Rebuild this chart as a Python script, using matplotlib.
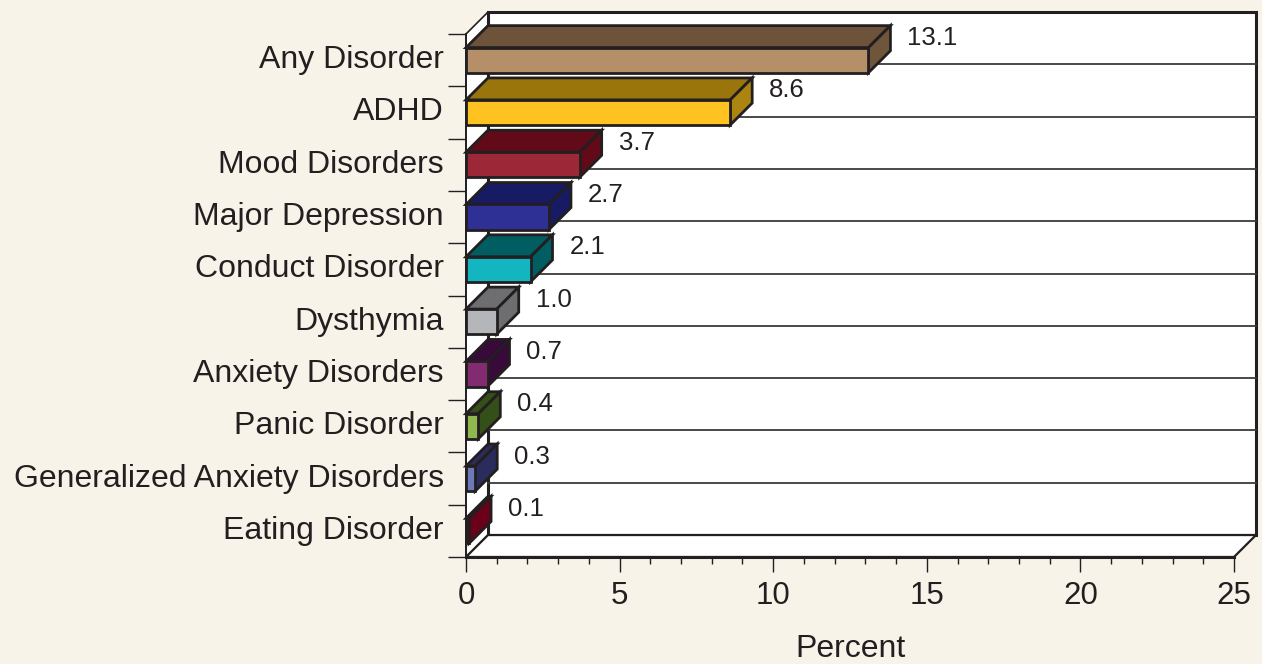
import numpy as np
import matplotlib
matplotlib.use("Agg")
import matplotlib.pyplot as plt
from matplotlib.patches import Polygon

plt.rcParams['font.family'] = ['Liberation Sans', 'DejaVu Sans']

categories = ["Any Disorder", "ADHD", "Mood Disorders", "Major Depression",
              "Conduct Disorder", "Dysthymia", "Anxiety Disorders",
              "Panic Disorder", "Generalized Anxiety Disorders", "Eating Disorder"]
values = [13.1, 8.6, 3.7, 2.7, 2.1, 1.0, 0.7, 0.4, 0.3, 0.1]
front_colors = ["#b58f67", "#fec221", "#9b2737", "#2f3096", "#13b5c1",
                "#b5b6ba", "#822b70", "#8fb94c", "#6c7ab8", "#7d0021"]
top_colors = ["#6c5339", "#9a750b", "#620a18", "#161b63", "#005d61",
              "#6e6e70", "#380a3a", "#344f18", "#2a2c5c", "#5a0014"]
side_colors = ["#6f553a", "#ab8510", "#620a18", "#161b63", "#005d61",
               "#6e6e70", "#380a3a", "#344f18", "#2a2c5c", "#6a0019"]

BG = "#f7f3e9"
INK = "#231f20"
XMAX = 25
DX, DY = 0.716, 0.42   # depth offset in data units
H = 0.48               # bar front height

n = len(categories)
ypos = np.arange(n)[::-1]
lo, hi = -0.5, n - 0.5

fig = plt.figure(figsize=(12.62, 6.64), dpi=100, facecolor=BG)
ax = fig.add_axes([466 / 1262, 107 / 664, 768 / 1262, 523 / 664])
ax.set_facecolor("none")
ax.set_xlim(0, XMAX)
ax.set_ylim(lo, hi)

# walls and floor
back = Polygon([(DX, lo + DY), (XMAX + DX, lo + DY), (XMAX + DX, hi + DY), (DX, hi + DY)],
               closed=True, facecolor="white", edgecolor=INK, lw=2.2, zorder=0.5, clip_on=False)
side = Polygon([(0, lo), (DX, lo + DY), (DX, hi + DY), (0, hi)],
               closed=True, facecolor="white", edgecolor=INK, lw=1.2, zorder=0.4, clip_on=False)
floor = Polygon([(0, lo), (XMAX, lo), (XMAX + DX, lo + DY), (DX, lo + DY)],
                closed=True, facecolor="white", edgecolor=INK, lw=1.6, zorder=0.6, clip_on=False)
for p in (side, back, floor):
    ax.add_patch(p)

# back wall grid lines
for b in np.arange(lo + 1, hi):
    ax.plot([DX, XMAX + DX], [b + DY, b + DY], color="#3a3a3a", lw=1.3, zorder=1, clip_on=False)

# bars
for y, v, fc, tc, sc in zip(ypos, values, front_colors, top_colors, side_colors):
    top = Polygon([(0, y + H / 2), (v, y + H / 2), (v + DX, y + H / 2 + DY), (DX, y + H / 2 + DY)],
                  closed=True, facecolor=tc, edgecolor=INK, lw=2, zorder=3, clip_on=False)
    sd = Polygon([(v, y - H / 2), (v + DX, y - H / 2 + DY), (v + DX, y + H / 2 + DY), (v, y + H / 2)],
                 closed=True, facecolor=sc, edgecolor=INK, lw=2, zorder=3, clip_on=False)
    ax.add_patch(top)
    ax.add_patch(sd)
    ax.barh(y, v, height=H, color=fc, edgecolor=INK, lw=2, zorder=4, clip_on=False)
    ax.text(v + DX + 0.55, y + 0.42, f"{v:.1f}", fontsize=18.5, color=INK,
            ha="left", va="center", zorder=5)

# axes styling
for s in ("top", "right"):
    ax.spines[s].set_visible(False)
ax.spines["bottom"].set_linewidth(2.2)
ax.spines["left"].set_linewidth(1.3)
for s in ("bottom", "left"):
    ax.spines[s].set_color(INK)
    ax.spines[s].set_zorder(6)

ax.set_yticks(ypos)
ax.set_yticklabels(categories, fontsize=23, color=INK, va="center")
ax.set_yticks(np.arange(lo, hi + 0.01), minor=True)
ax.tick_params(axis="y", which="major", length=0, pad=16)
ax.tick_params(axis="y", which="minor", length=13, width=1, color=INK)

ax.set_xticks(np.arange(0, XMAX + 1, 5))
ax.set_xticks(np.arange(0, XMAX + 1, 1), minor=True)
ax.tick_params(axis="x", which="major", length=11, width=1, color=INK,
               labelsize=22.5, labelcolor=INK, pad=6)
ax.tick_params(axis="x", which="minor", length=5, width=1, color=INK)
ax.set_xlabel("Percent", fontsize=23, color=INK, labelpad=17)

fig.savefig("out.png", dpi=100, facecolor=BG)
